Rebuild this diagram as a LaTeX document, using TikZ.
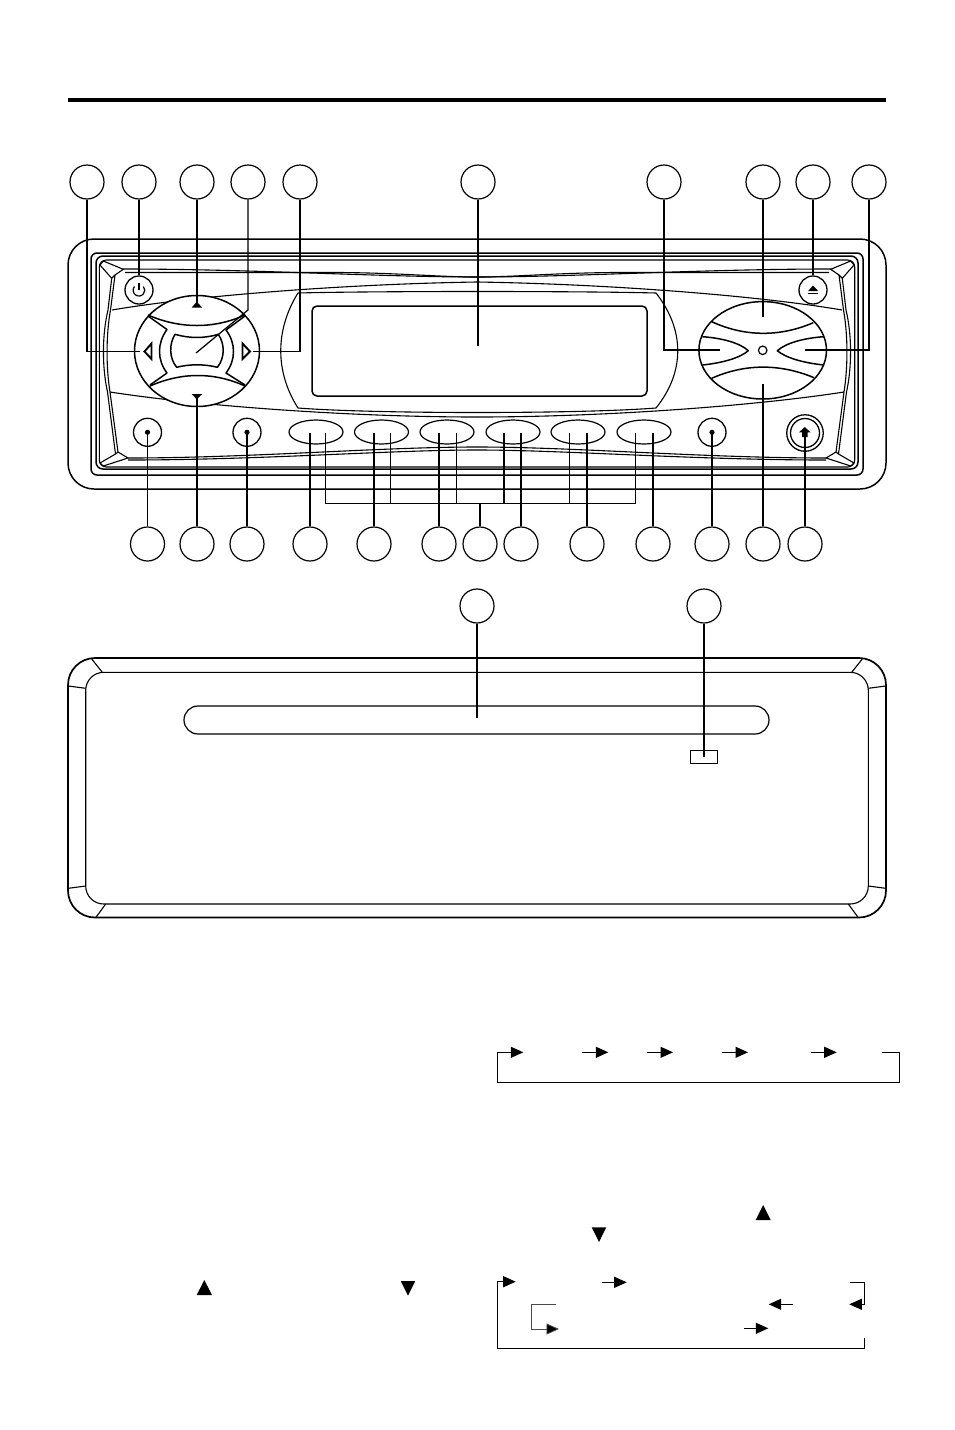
\documentclass[tikz,border=0pt]{standalone}
\usetikzlibrary{arrows.meta}
\usetikzlibrary{shapes.geometric}
\tikzset{
  callout/.style={circle,draw,line width=1.2pt,minimum size=34pt,inner sep=0pt,fill=white},
  leader/.style={line width=1.25pt},
  ln/.style={line width=1.1pt,line join=round},
  thk/.style={line width=1.5pt,line join=round},
  flow/.style={line width=1.1pt,-{Triangle[length=12.5pt,width=11pt]}},
  flowline/.style={line width=1.1pt},
  solid tri/.style={fill=black,draw=none},
  btn/.style={circle,draw,line width=1.3pt,minimum size=28pt,inner sep=0pt},
  oval/.style={ellipse,draw,line width=1.2pt,minimum width=54pt,minimum height=24pt,inner sep=0pt},
}
\newcommand{\facehalf}{%
  \draw[ln] (123,269) .. controls (250,269) and (380,277) .. (477,277);
  \draw[ln] (125,272.5) -- (340,272.5) .. controls (400,273) and (440,277) .. (477,277);
  \draw[ln] (128,458) .. controls (250,458) and (380,447) .. (477,447);
  \draw[ln] (128,460) .. controls (260,460) and (390,450) .. (477,450);
  \draw[ln] (112,310) .. controls (200,295) and (350,284) .. (477,282);
  \draw[ln] (110,392) .. controls (200,406) and (350,417) .. (477,417);
  \draw[ln] (100,265) -- (103.3,261) -- (123.3,269.3) -- (115,275) -- (111.7,278.3) -- cycle;
  \draw[ln] (115,275) -- (110.5,310) .. controls (106,335) and (106,367) .. (110,392) -- (118,452);
  \draw[ln] (111.7,278.3) -- (108,310) .. controls (102,335) and (102,367) .. (107.5,392) -- (115.5,454);
  \draw[ln] (100,463) -- (103.3,466) -- (128,458) -- (118,452) -- (115.5,454) -- cycle;
}
\newcommand{\lidcorners}{%
  \draw[ln] (91.7,659) -- (102.3,672.3);
  \draw[ln] (68.3,686) -- (85.7,688.3);
  \draw[ln] (68.3,888.3) -- (85.7,886);
  \draw[ln] (96,917.3) -- (105.7,904);
}
\begin{document}
\begin{tikzpicture}[x=1pt,y=-1pt]
\useasboundingbox (0,0) rectangle (954,1430);
\fill[white] (0,0) rectangle (954,1430);

% heading rule
\draw[line width=4pt] (68,100) -- (886,100);

% faceplate frames
\draw[thk,rounded corners=26pt] (68,239) rectangle (886,489);
\draw[thk,rounded corners=6pt] (91,253) rectangle (863,475);
\draw[thk,rounded corners=7pt] (96,256) rectangle (858,469);
\draw[ln,rounded corners=7pt] (99.3,260) rectangle (854.7,467);

\facehalf
\begin{scope}[xshift=954pt,xscale=-1]\facehalf\end{scope}

% display
\draw[ln] (298,293) .. controls (375,291) and (580,291) .. (656,293)
  .. controls (685,330) and (685,372) .. (656,408)
  .. controls (580,414) and (375,414) .. (298,408)
  .. controls (275,372) and (275,330) .. (298,293) -- cycle;
\draw[thk,rounded corners=5pt] (312,306) rectangle (647,396);

% d-pad
\draw[thk,fill=white] (197,351) ellipse [x radius=62.5,y radius=55.5];
\draw[thk] (148,315) .. controls (180,329) and (214,329) .. (245,315);
\draw[thk] (150,386) .. controls (182,372) and (214,372) .. (245,386);
\draw[thk] (148,316) -- (167,329.5) .. controls (157,343) and (157,360) .. (167,373) -- (150,385);
\draw[thk] (245,316) -- (226,330) .. controls (236,343) and (236,360) .. (226,373) -- (245,385);
\draw[thk] (175,334.3) .. controls (189,338.5) and (205,338.5) .. (218.3,334.3)
  .. controls (225,344) and (225,358) .. (217.3,367.3)
  .. controls (205,364) and (189,364) .. (176.7,367.3)
  .. controls (169,358) and (169,344) .. (175,334.3) -- cycle;
\fill[solid tri] (191.7,307.7) -- (196.7,301.7) -- (202.3,307.7) -- cycle;
\fill[solid tri] (191.7,394) -- (202.3,394) -- (196.7,399.3) -- cycle;
\draw[line width=1.9pt,line join=miter] (151.5,343.5) -- (144.5,351.5) -- (151.5,359) -- cycle;
\draw[line width=1.9pt,line join=miter] (242.5,343.5) -- (250,351.5) -- (242.5,359) -- cycle;

% round buttons
\node[btn] (power) at (139,290) {};
\draw[line width=1.2pt] (134.5,286.5) arc [start angle=220,end angle=-40,radius=5.8];
\draw[line width=1.2pt] (139,283) -- (139,290);
\node[btn] (lbtn) at (147.5,432.3) {};
\fill (lbtn) circle (2.6);
\node[btn] (mbtn) at (247,432.3) {};
\fill (mbtn) circle (2.6);
\node[btn] (rbtn) at (712,432.3) {};
\fill (rbtn) circle (2.6);
\node[btn] (eject) at (813,290) {};
\fill[solid tri] (808.2,291) -- (813,285.5) -- (818.2,291) -- cycle;
\draw[line width=1.4pt] (808.2,293.5) -- (818.2,293.5);
\node[btn,minimum size=36.5pt] (rel) at (805,433) {};
\node[btn,minimum size=29pt] (relin) at (805,433) {};
\fill[solid tri] (799,432.3) -- (804.8,427) -- (810.5,432.3) -- (807.5,432.3) -- (807.5,437) -- (802,437) -- (802,432.3) -- cycle;

% preset buttons
\node[oval] (p1) at (316,432) {};
\node[oval] (p2) at (381.5,432) {};
\node[oval] (p3) at (447,432) {};
\node[oval] (p4) at (513,432) {};
\node[oval] (p5) at (578,432) {};
\node[oval] (p6) at (644,432) {};

% right selector
\draw[thk,fill=white] (762.7,350.3) ellipse [x radius=63.8,y radius=48.7];
\draw[thk] (711.7,321.7) .. controls (745,337) and (780,337) .. (813.3,322.7);
\draw[thk] (711.7,378.3) .. controls (745,363.5) and (780,363.5) .. (814,377.7);
\draw[thk] (702.3,336.7) .. controls (722,338) and (740,343) .. (748.3,350.7) .. controls (740,358) and (722,363) .. (702.3,365);
\draw[thk] (824,336.7) .. controls (804,338) and (786,343) .. (777.3,350.7) .. controls (786,358) and (804,363) .. (824,365);
\node[circle,draw,line width=1.2pt,minimum size=8.5pt,inner sep=0pt] (dot) at (762.7,350.3) {};

% callouts, top row
\foreach \n/\x in {t1/87,t2/139,t3/197,t4/248,t5/300,t6/478,t7/664,t8/763,t9/813,t10/869}
  \node[callout] (\n) at (\x,182) {};
% callouts, bottom row
\foreach \n/\x in {b1/147.5,b2/197,b3/247,b4/310,b5/374,b6/439,b7/480,b8/521,b9/587,b10/653,b11/712,b12/763,b13/805}
  \node[callout] (\n) at (\x,544) {};
% callouts, lid
\node[callout] (l1) at (477,606) {};
\node[callout] (l2) at (704,606) {};

% leader ends
\coordinate (e1) at (140,351.5);
\coordinate (e3) at (197,303);
\coordinate (e4a) at (248,310);
\coordinate (e4) at (196,353);
\coordinate (e5) at (253,351.5);
\coordinate (e6) at (478,346);
\coordinate (e7) at (720,350);
\coordinate (e8) at (763,317);
\coordinate (e10) at (805,350);
\coordinate (e12) at (763,384);
\coordinate (bl) at (325.3,503.5);
\coordinate (br) at (635.3,503.5);
\coordinate (lend) at (704,757);

\draw[leader] (t1.south) |- (e1);
\draw[leader] (t2.south) -- (power.north);
\draw[leader] (t3.south) -- (e3);
\draw[leader] (t4.south) -- (e4a) -- (e4);
\draw[leader] (t5.south) |- (e5);
\draw[leader] (t6.south) -- (e6);
\draw[leader] (t7.south) |- (e7);
\draw[leader] (t8.south) -- (e8);
\draw[leader] (t9.south) -- (eject.north);
\draw[leader] (t10.south) |- (e10);

\draw[leader] (b1.north) -- (lbtn.center);
\draw[leader] (b2.north) -- (197,396);
\draw[leader] (b3.north) -- (mbtn.center);
\draw[leader] (b4.north) -- (310,433);
\draw[leader] (b5.north) -- (374,433);
\draw[leader] (b6.north) -- (439,433);
\draw[leader] (b7.north) -- (480,503.5);
\draw[leader] (b8.north) -- (521,433);
\draw[leader] (b9.north) -- (587,433);
\draw[leader] (b10.north) -- (653,433);
\draw[leader] (b11.north) -- (rbtn.center);
\draw[leader,line width=1.5pt] (b12.north) -- (e12);
\draw[leader] (b13.north) -- (805,433);

\draw[leader] (325.3,433) -- (bl) -- (br) -- (635.3,433);
\draw[leader] (390.3,433) -- (390.3,503.5);
\draw[leader] (456.3,433) -- (456.3,503.5);
\draw[leader,line width=1.5pt] (504,433) -- (504,503.5);
\draw[leader] (569.3,433) -- (569.3,503.5);

% CD lid
\draw[line width=1.7pt,rounded corners=27pt] (68,658) rectangle (886,917.5);
\draw[ln,rounded corners=18pt] (85.7,672.3) rectangle (868.3,904);
\lidcorners
\begin{scope}[xshift=954pt,xscale=-1]\lidcorners\end{scope}
\node[draw,line width=1.2pt,rounded corners=14pt,minimum width=585pt,minimum height=28pt,inner sep=0pt] (slot) at (476.5,720) {};
\node[draw,line width=1.2pt,minimum width=27pt,minimum height=13pt,inner sep=0pt] (win) at (704.2,756.8) {};
\draw[leader] (l1.south) -- (477,718);
\draw[leader] (l2.south) -- (lend);

% flow 1
\coordinate (f1a) at (497.3,1082.3);
\draw[flowline] (882,1052.3) -- (899.3,1052.3) -- (899.3,1082.3) -- (f1a) -- (497.3,1052.3) -- (511,1052.3);
\draw[flow] (497.3,1052.3) -- (523.3,1052.3);
\draw[flow] (582,1052.3) -- (608.3,1052.3);
\draw[flow] (647,1052.3) -- (673,1052.3);
\draw[flow] (722,1052.3) -- (748,1052.3);
\draw[flow] (811,1052.3) -- (836.7,1052.3);

% flow 2
\draw[flowline] (864.3,1338) -- (864.3,1348.3) -- (497.3,1348.3) -- (497.3,1281.7);
\draw[flow] (497.3,1281.7) -- (515.7,1281.7);
\draw[flow] (602.3,1282.3) -- (626.7,1282.3);
\draw[flow] (850,1282.3) -- (864.3,1282.3) -- (864.3,1304.3) -- (849.3,1304.3);
\draw[flow] (792.7,1304.3) -- (768.7,1304.3);
\draw[flow,line width=.8pt,draw=black!70,-{Triangle[length=12.5pt,width=11pt,fill=black]}] (556,1304) -- (531.7,1304) -- (531.7,1329) -- (559,1329);
\draw[flow] (744,1328.3) -- (768.3,1328.3);

% text triangles
\fill[solid tri] (196.7,1295) -- (204.3,1280) -- (212,1295) -- cycle;
\fill[solid tri] (400.7,1281) -- (415.3,1281) -- (408,1295.5) -- cycle;
\fill[solid tri] (755.7,1220) -- (763.2,1205) -- (770.7,1220) -- cycle;
\fill[solid tri] (591.7,1227.3) -- (606.3,1227.3) -- (599,1242) -- cycle;
\end{tikzpicture}
\end{document}
